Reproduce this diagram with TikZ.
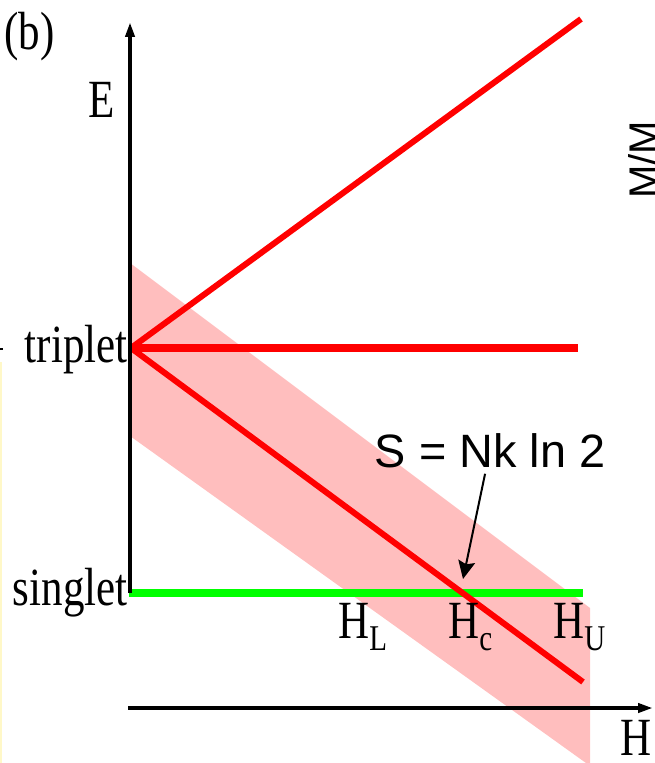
\documentclass[tikz,border=0pt]{standalone}
\usepackage{fontspec}
\setmainfont{Liberation Serif}
\newfontfamily\arialfont{Liberation Sans}
\usepackage{tikz}
\usetikzlibrary{arrows.meta}
\definecolor{band}{RGB}{255,190,190}
\definecolor{lvred}{RGB}{255,0,0}
\definecolor{lvgreen}{RGB}{0,255,0}
\definecolor{paleyel}{RGB}{255,248,200}
\newcommand{\tall}[1]{\scalebox{1}[1.25]{#1}}
\newcommand{\hsub}[1]{H\raisebox{-0.24em}{\fontsize{14.5}{16}\selectfont #1}}

\begin{document}
\begin{tikzpicture}[x=0.5pt,y=-0.5pt, every node/.style={inner sep=0pt,font=\fontsize{21.5}{24}\selectfont}, lvl/.style={line width=3pt,lvred}, flat/.style={line width=3.6pt}, axis/.style={line width=2pt,-{Triangle[length=7.5pt,width=4.5pt]}}, ptr/.style={line width=1pt,-{Stealth[length=9pt,width=8.5pt,inset=1.5pt]},shorten <=3pt}, sans/.style={font=\arialfont\fontsize{23.4}{26}\selectfont}]
  \useasboundingbox (0,0) rectangle (654,763);
  \clip (0,0) rectangle (654,763);
  \fill[band] (130,263) -- (590,608) -- (590,763) -- (586,763) -- (130,436) -- cycle;
  \coordinate (trip) at (131,348); \coordinate (tup) at (581,19); \coordinate (tmid) at (578,348); \coordinate (tdown) at (583,682);
  \coordinate (sing) at (129,593); \coordinate (send) at (583,593); \coordinate (hc) at (463,579);
  \coordinate (etop) at (130,22); \coordinate (ebot) at (130,593); \coordinate (hleft) at (128,708); \coordinate (hright) at (653,708);
  \draw[lvl] (trip)--(tup); \draw[lvl,flat] (trip)--(tmid);
  \draw[flat,lvgreen] (sing)--(send);
  \draw[lvl] (trip)--(tdown);
  \draw[axis] (ebot)--(etop); \draw[axis] (hleft)--(hright);
  \node[anchor=base west] (lab) at (4,50) {\tall{(b)}};
  \node[anchor=base] (elab) at (101.5,118) {\tall{E}};
  \node[anchor=base east] (tlab) at (128,363) {\tall{triplet}};
  \node[anchor=base east] (slab) at (128,605) {\tall{singlet}};
  \node[anchor=base west] (hllab) at (338,638) {\tall{\hsub{L}}};
  \node[anchor=base west] (hclab) at (448,638) {\tall{\hsub{c}}};
  \node[anchor=base west] (hulab) at (553,638) {\tall{\hsub{U}}};
  \node[anchor=base west] (hlab) at (620,755) {\tall{H}};
  \node[sans,anchor=base] (entr) at (490,467) {S = Nk ln 2};
  \node[font=\arialfont\fontsize{20}{22}\selectfont,rotate=90,anchor=base] (mm) at (657,160) {M/M};
  \draw[ptr] (entr)--(hc);
  \draw[paleyel,line width=1pt] (1,362)--(1,763); \draw[line width=1pt] (0,349)--(3,349);
\end{tikzpicture}
\end{document}
